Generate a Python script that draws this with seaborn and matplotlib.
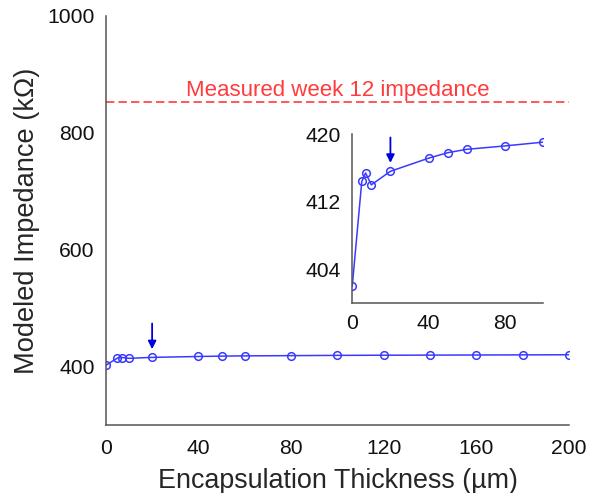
import matplotlib
matplotlib.use("Agg")
import matplotlib.pyplot as plt
import seaborn as sns
import pandas as pd

# Modeled impedance versus encapsulation thickness
thickness_um = [0, 5, 7, 10, 20, 40, 50, 60, 80, 100, 120, 140, 160, 180, 200]
impedance_kohm = [402.0, 414.4, 415.4, 414.0, 415.6, 417.15, 417.8, 418.2, 418.6,
                  419.05, 419.3, 419.5, 419.7, 419.9, 420.1]
measured_week12_kohm = 853
arrow_thickness_um = 20

main_xticks = [0, 40, 80, 120, 160, 200]
main_yticks = [400, 600, 800, 1000]
inset_xticks = [0, 40, 80]
inset_yticks = [404, 412, 420]

df = pd.DataFrame({"thickness": thickness_um, "impedance": impedance_kohm})
df_inset = df[df["thickness"] <= 100]

sns.set_theme(style="white")
plt.rcParams["font.family"] = ["Liberation Sans", "DejaVu Sans"]

blue = "#3a3aff"
red = "#ff3b3b"
spine_grey = "#555555"
tick_size = 15.2

fig = plt.figure(figsize=(5.91, 4.93), dpi=100)
ax = fig.add_axes([0.179, 0.138, 0.784, 0.830])

sns.lineplot(data=df, x="thickness", y="impedance", ax=ax, color=blue, lw=1.1,
             marker="o", markersize=5.5, markerfacecolor="none",
             markeredgecolor=blue, markeredgewidth=1.1)
ax.axhline(measured_week12_kohm, color=red, lw=1.2, ls=(0, (5, 2.5)))
ax.text(100, measured_week12_kohm + 9, "Measured week 12 impedance", color=red,
        ha="center", va="baseline", fontsize=16)

ax.set_xlim(0, 200)
ax.set_ylim(300, 1000)
ax.set_xticks(range(0, 201, 20), minor=False)
ax.set_xticklabels([str(t) if t in main_xticks else "" for t in range(0, 201, 20)])
ax.set_yticks(range(300, 1001, 100))
ax.set_yticklabels([str(t) if t in main_yticks else "" for t in range(300, 1001, 100)])
ax.set_xlabel("Encapsulation Thickness (µm)", fontsize=19.4, labelpad=7)
ax.set_ylabel("Modeled Impedance (kΩ)", fontsize=19.6, labelpad=5)
ax.tick_params(direction="in", length=4, width=1, colors=spine_grey,
               labelcolor="#111111", labelsize=tick_size, pad=8)
ax.tick_params(axis="x", pad=10)
for side in ("top", "right"):
    ax.spines[side].set_visible(False)
for side in ("left", "bottom"):
    ax.spines[side].set_color(spine_grey)
    ax.spines[side].set_linewidth(1.1)

y20 = df.loc[df["thickness"] == arrow_thickness_um, "impedance"].iloc[0]
ax.annotate("", xy=(arrow_thickness_um, y20 + 14), xytext=(arrow_thickness_um, y20 + 58),
            arrowprops=dict(arrowstyle="-|>", color="#0000dd", lw=1.3,
                            mutation_scale=12, shrinkA=0, shrinkB=0))

# Zoomed view of the first 100 µm
ins = fig.add_axes([0.596, 0.385, 0.323, 0.343])
sns.lineplot(data=df_inset, x="thickness", y="impedance", ax=ins, color=blue, lw=1.1,
             marker="o", markersize=5.5, markerfacecolor="none",
             markeredgecolor=blue, markeredgewidth=1.1)
ins.set_xlim(0, 100)
ins.set_ylim(400, 420)
ins.set_xticks(range(0, 101, 20))
ins.set_xticklabels([str(t) if t in inset_xticks else "" for t in range(0, 101, 20)])
ins.set_yticks(range(404, 421, 4))
ins.set_yticklabels([str(t) if t in inset_yticks else "" for t in range(404, 421, 4)])
ins.set_xlabel("")
ins.set_ylabel("")
ins.tick_params(direction="in", length=3, width=1, colors=spine_grey,
                labelcolor="#111111", labelsize=tick_size, pad=8)
ins.tick_params(axis="x", pad=8)
for side in ("top", "right"):
    ins.spines[side].set_visible(False)
for side in ("left", "bottom"):
    ins.spines[side].set_color(spine_grey)
    ins.spines[side].set_linewidth(1.1)
ins.patch.set_alpha(0)

yi20 = df_inset.loc[df_inset["thickness"] == arrow_thickness_um, "impedance"].iloc[0]
ins.annotate("", xy=(arrow_thickness_um, yi20 + 1.0), xytext=(arrow_thickness_um, yi20 + 4.0),
             arrowprops=dict(arrowstyle="-|>", color="#0000dd", lw=1.3,
                             mutation_scale=12, shrinkA=0, shrinkB=0))

fig.savefig("out.png", dpi=100)
